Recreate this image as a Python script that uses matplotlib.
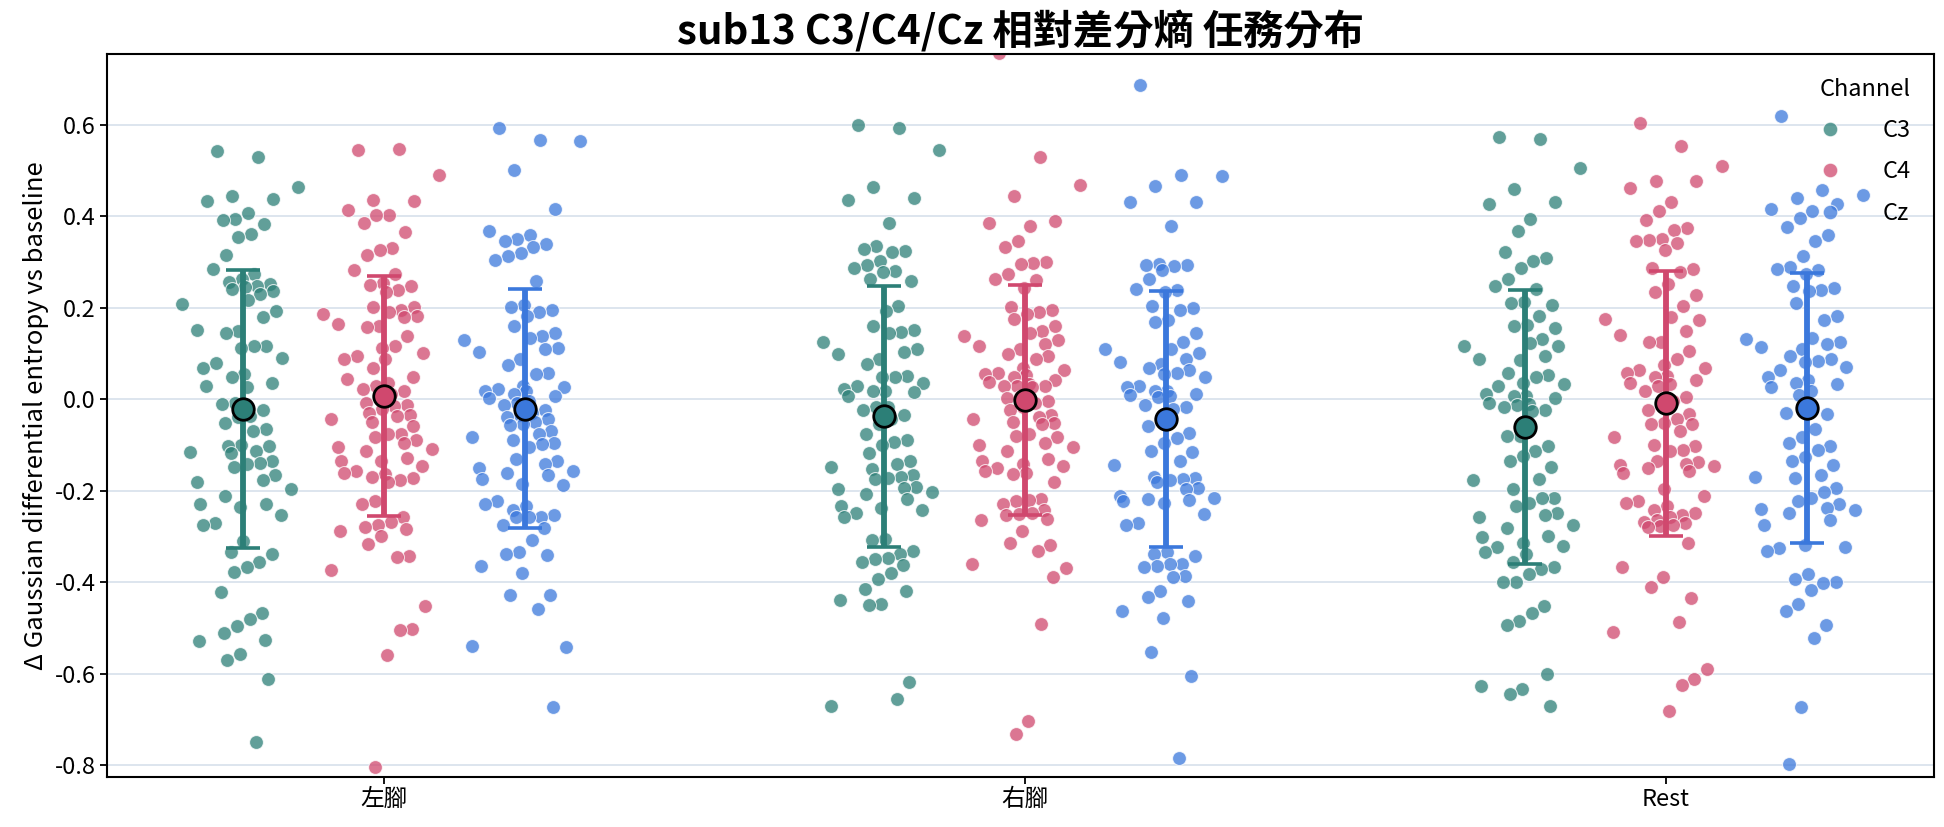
"""
sub13 C3/C4/Cz 相對差分熵 任務分布：抖動散點 + 平均值 ± SD。
輸出：out.png（1944x827）
"""

from __future__ import annotations

import matplotlib

matplotlib.use("Agg")
import matplotlib.pyplot as plt
import numpy as np
from matplotlib.lines import Line2D

# ---- 資料（各任務 × 通道的 Δ 差分熵）----
TASKS = ["左腳", "右腳", "Rest"]
CHANNELS = ["C3", "C4", "Cz"]

LEFT_C3 = [0.543, 0.530, 0.465, 0.445, 0.438, 0.433, 0.408, 0.395, 0.393, 0.383, 0.362, 0.355,
           0.316, 0.284, 0.275, 0.263, 0.257, 0.252, 0.247, 0.245, 0.242, 0.237, 0.230, 0.217,
           0.208, 0.194, 0.179, 0.152, 0.150, 0.145, 0.117, 0.116, 0.113, 0.091, 0.079, 0.068,
           0.055, 0.048, 0.036, 0.028, 0.026, -0.008, -0.011, -0.023, -0.037, -0.039, -0.052,
           -0.066, -0.069, -0.100, -0.103, -0.103, -0.113, -0.115, -0.117, -0.136, -0.140,
           -0.142, -0.149, -0.166, -0.177, -0.182, -0.197, -0.212, -0.228, -0.230, -0.236,
           -0.253, -0.271, -0.274, -0.309, -0.335, -0.338, -0.355, -0.367, -0.378, -0.422,
           -0.468, -0.481, -0.495, -0.512, -0.526, -0.529, -0.557, -0.570, -0.611, -0.749]
LEFT_C4 = [0.546, 0.547, 0.490, 0.436, 0.434, 0.413, 0.403, 0.402, 0.385, 0.365, 0.330, 0.326,
           0.316, 0.283, 0.275, 0.254, 0.249, 0.247, 0.239, 0.235, 0.202, 0.201, 0.196, 0.191,
           0.186, 0.183, 0.179, 0.165, 0.160, 0.157, 0.138, 0.117, 0.113, 0.101, 0.094, 0.089,
           0.089, 0.068, 0.048, 0.045, 0.036, 0.028, 0.022, 0.017, 0.012, 0.007, -0.008, -0.013,
           -0.015, -0.021, -0.029, -0.034, -0.036, -0.044, -0.049, -0.059, -0.075, -0.077,
           -0.083, -0.090, -0.095, -0.105, -0.108, -0.113, -0.128, -0.136, -0.136, -0.146,
           -0.156, -0.161, -0.164, -0.169, -0.172, -0.177, -0.182, -0.223, -0.230, -0.258,
           -0.269, -0.274, -0.279, -0.284, -0.289, -0.299, -0.317, -0.342, -0.345, -0.373,
           -0.453, -0.502, -0.504, -0.560, -0.805]
LEFT_CZ = [0.594, 0.567, 0.564, 0.502, 0.415, 0.368, 0.360, 0.351, 0.346, 0.339, 0.334, 0.319,
           0.314, 0.305, 0.259, 0.206, 0.201, 0.196, 0.191, 0.181, 0.160, 0.145, 0.138, 0.135,
           0.130, 0.113, 0.109, 0.104, 0.087, 0.074, 0.058, 0.056, 0.028, 0.026, 0.022, 0.019,
           0.017, 0.012, 0.007, 0.002, -0.003, -0.008, -0.013, -0.023, -0.029, -0.034, -0.039,
           -0.044, -0.049, -0.054, -0.057, -0.069, -0.075, -0.083, -0.090, -0.095, -0.098,
           -0.105, -0.131, -0.136, -0.141, -0.151, -0.156, -0.161, -0.166, -0.175, -0.185,
           -0.187, -0.223, -0.228, -0.233, -0.243, -0.253, -0.258, -0.258, -0.258, -0.274,
           -0.281, -0.307, -0.333, -0.338, -0.340, -0.364, -0.381, -0.427, -0.427, -0.458,
           -0.539, -0.542, -0.672]
RIGHT_C3 = [0.600, 0.594, 0.546, 0.464, 0.441, 0.436, 0.385, 0.336, 0.329, 0.324, 0.322, 0.303,
            0.293, 0.288, 0.281, 0.278, 0.263, 0.259, 0.203, 0.193, 0.160, 0.152, 0.147, 0.145,
            0.125, 0.109, 0.104, 0.099, 0.089, 0.077, 0.050, 0.048, 0.048, 0.035, 0.030, 0.022,
            0.019, 0.017, 0.015, 0.007, -0.018, -0.018, -0.023, -0.034, -0.044, -0.054, -0.075,
            -0.088, -0.093, -0.100, -0.117, -0.136, -0.141, -0.149, -0.153, -0.166, -0.169,
            -0.172, -0.175, -0.192, -0.195, -0.197, -0.202, -0.207, -0.218, -0.233, -0.238,
            -0.243, -0.248, -0.258, -0.306, -0.307, -0.332, -0.338, -0.348, -0.350, -0.355,
            -0.363, -0.379, -0.393, -0.414, -0.419, -0.440, -0.447, -0.449, -0.619, -0.655,
            -0.670]
RIGHT_C4 = [0.758, 0.530, 0.469, 0.444, 0.390, 0.385, 0.378, 0.346, 0.334, 0.300, 0.298, 0.295,
            0.275, 0.263, 0.260, 0.244, 0.201, 0.196, 0.191, 0.186, 0.176, 0.160, 0.150, 0.145,
            0.138, 0.130, 0.120, 0.116, 0.109, 0.099, 0.094, 0.089, 0.068, 0.063, 0.058, 0.056,
            0.053, 0.048, 0.043, 0.038, 0.033, 0.030, 0.028, 0.028, 0.026, 0.005, 0.002, -0.003,
            -0.008, -0.018, -0.023, -0.034, -0.039, -0.044, -0.049, -0.052, -0.054, -0.075,
            -0.080, -0.083, -0.095, -0.100, -0.105, -0.113, -0.131, -0.136, -0.141, -0.146,
            -0.151, -0.156, -0.161, -0.164, -0.182, -0.218, -0.220, -0.223, -0.228, -0.243,
            -0.248, -0.250, -0.253, -0.261, -0.264, -0.289, -0.315, -0.318, -0.332, -0.361,
            -0.368, -0.388, -0.491, -0.703, -0.733]
RIGHT_CZ = [0.688, 0.491, 0.489, 0.467, 0.431, 0.431, 0.379, 0.295, 0.293, 0.293, 0.291, 0.283,
            0.263, 0.242, 0.240, 0.234, 0.203, 0.199, 0.196, 0.173, 0.169, 0.145, 0.125, 0.111,
            0.109, 0.101, 0.089, 0.081, 0.077, 0.068, 0.063, 0.058, 0.055, 0.048, 0.030, 0.026,
            0.019, 0.017, 0.012, 0.009, 0.007, 0.005, -0.013, -0.018, -0.021, -0.044, -0.059,
            -0.073, -0.085, -0.095, -0.113, -0.115, -0.136, -0.144, -0.169, -0.172, -0.175,
            -0.177, -0.182, -0.195, -0.197, -0.212, -0.216, -0.218, -0.220, -0.223, -0.226,
            -0.251, -0.271, -0.276, -0.335, -0.338, -0.342, -0.361, -0.361, -0.364, -0.366,
            -0.386, -0.389, -0.420, -0.432, -0.442, -0.463, -0.478, -0.553, -0.606, -0.784]
REST_C3 = [0.574, 0.569, 0.505, 0.459, 0.431, 0.426, 0.395, 0.367, 0.322, 0.308, 0.303, 0.288,
           0.263, 0.247, 0.242, 0.213, 0.211, 0.206, 0.183, 0.162, 0.160, 0.155, 0.132, 0.122,
           0.117, 0.117, 0.094, 0.089, 0.085, 0.058, 0.053, 0.048, 0.036, 0.033, 0.028, 0.012,
           0.007, 0.007, 0.002, -0.008, -0.011, -0.013, -0.018, -0.023, -0.026, -0.080, -0.080,
           -0.103, -0.113, -0.124, -0.136, -0.148, -0.175, -0.177, -0.197, -0.216, -0.216,
           -0.226, -0.233, -0.248, -0.253, -0.258, -0.274, -0.281, -0.299, -0.301, -0.315,
           -0.320, -0.322, -0.335, -0.338, -0.355, -0.366, -0.371, -0.383, -0.399, -0.399,
           -0.453, -0.468, -0.485, -0.493, -0.601, -0.626, -0.634, -0.645, -0.670]
REST_C4 = [0.605, 0.554, 0.510, 0.477, 0.477, 0.462, 0.431, 0.411, 0.393, 0.375, 0.370, 0.351,
           0.349, 0.346, 0.342, 0.326, 0.288, 0.285, 0.278, 0.252, 0.234, 0.227, 0.203, 0.179,
           0.176, 0.173, 0.150, 0.140, 0.125, 0.125, 0.106, 0.089, 0.074, 0.068, 0.063, 0.058,
           0.050, 0.048, 0.043, 0.036, 0.033, 0.030, 0.019, 0.005, -0.003, -0.013, -0.023,
           -0.032, -0.044, -0.051, -0.054, -0.054, -0.069, -0.083, -0.100, -0.103, -0.110,
           -0.113, -0.136, -0.138, -0.141, -0.144, -0.146, -0.151, -0.156, -0.161, -0.197,
           -0.212, -0.223, -0.226, -0.233, -0.243, -0.248, -0.253, -0.258, -0.264, -0.269,
           -0.271, -0.274, -0.277, -0.279, -0.315, -0.366, -0.389, -0.410, -0.435, -0.488,
           -0.509, -0.590, -0.611, -0.624, -0.682]
REST_CZ = [0.620, 0.457, 0.446, 0.441, 0.426, 0.416, 0.411, 0.397, 0.377, 0.360, 0.346, 0.314,
           0.290, 0.285, 0.283, 0.275, 0.247, 0.244, 0.240, 0.237, 0.211, 0.183, 0.173, 0.135,
           0.132, 0.125, 0.120, 0.114, 0.109, 0.094, 0.089, 0.084, 0.081, 0.070, 0.063, 0.048,
           0.043, 0.036, 0.033, 0.026, 0.017, 0.009, -0.029, -0.032, -0.066, -0.083, -0.095,
           -0.103, -0.110, -0.126, -0.136, -0.144, -0.166, -0.169, -0.172, -0.195, -0.202,
           -0.216, -0.223, -0.230, -0.238, -0.240, -0.243, -0.248, -0.264, -0.274, -0.318,
           -0.322, -0.325, -0.332, -0.383, -0.393, -0.399, -0.401, -0.417, -0.447, -0.463,
           -0.493, -0.522, -0.672, -0.798]

Y_TICKS = [-0.8, -0.6, -0.4, -0.2, 0.0, 0.2, 0.4, 0.6]

TITLE = "sub13 C3/C4/Cz 相對差分熵 任務分布"
YLABEL = "Δ Gaussian differential entropy vs baseline"

# ---- 版式 ----
FIG_W_PX, FIG_H_PX, DPI = 1944, 827, 100
AX_LEFT_PX, AX_RIGHT_PX, AX_TOP_PX, AX_BOTTOM_PX = 107, 1934, 54, 777

BASE_COLORS = {"C3": "#2c7f77", "C4": "#d0486e", "Cz": "#3b78dc"}
POINT_ALPHA = 0.75
DODGE = 0.22
JITTER = 0.125
GRID_C = "#dde5ee"

TICK_FS = 17
LABEL_FS = 18.5
TITLE_FS = 29
LEGEND_FS = 17

FONT_FAMILY = ["Noto Sans CJK TC", "DejaVu Sans"]


def _spread(n: int) -> np.ndarray:
    # 決定性抖動：三條低差異序列相加，中間密、兩側疏
    k = np.arange(n)
    u1 = (k * 0.6180339887 + 0.37) % 1.0
    u2 = (k * 0.4142135624 + 0.11) % 1.0
    u3 = (k * 0.7320508076 + 0.53) % 1.0
    return ((u1 + u2 + u3) / 3.0 - 0.5) * 2.0 * JITTER


def main() -> None:
    plt.rcParams["font.family"] = FONT_FAMILY
    plt.rcParams["axes.unicode_minus"] = False

    data = {
        ("左腳", "C3"): LEFT_C3, ("左腳", "C4"): LEFT_C4, ("左腳", "Cz"): LEFT_CZ,
        ("右腳", "C3"): RIGHT_C3, ("右腳", "C4"): RIGHT_C4, ("右腳", "Cz"): RIGHT_CZ,
        ("Rest", "C3"): REST_C3, ("Rest", "C4"): REST_C4, ("Rest", "Cz"): REST_CZ,
    }

    fig = plt.figure(figsize=(FIG_W_PX / DPI, FIG_H_PX / DPI), dpi=DPI)
    ax = fig.add_axes([
        AX_LEFT_PX / FIG_W_PX,
        1.0 - AX_BOTTOM_PX / FIG_H_PX,
        (AX_RIGHT_PX - AX_LEFT_PX) / FIG_W_PX,
        (AX_BOTTOM_PX - AX_TOP_PX) / FIG_H_PX,
    ])

    offsets = {"C3": -DODGE, "C4": 0.0, "Cz": DODGE}
    for ti, task in enumerate(TASKS):
        for ch in CHANNELS:
            vals = np.asarray(data[(task, ch)], dtype=float)
            xc = ti + offsets[ch]
            xs = xc + _spread(len(vals))
            ax.scatter(xs, vals, s=100, color=BASE_COLORS[ch], alpha=POINT_ALPHA,
                       edgecolors="white", linewidths=0.8, zorder=2)
            m, sd = vals.mean(), vals.std(ddof=1)
            ax.errorbar(xc, m, yerr=sd, fmt="none", ecolor=BASE_COLORS[ch],
                        elinewidth=4.2, capsize=12, capthick=2.6, zorder=3)
            ax.plot(xc, m, marker="o", ms=15.5, mfc=BASE_COLORS[ch], mec="black",
                    mew=2.0, zorder=4)

    ax.set_xlim(-0.432, 2.418)
    ax.set_ylim(-0.826, 0.755)
    ax.set_xticks(range(len(TASKS)))
    ax.set_xticklabels(TASKS, fontsize=TICK_FS)
    ax.set_yticks(Y_TICKS)
    ax.set_yticklabels([f"{v:.1f}" for v in Y_TICKS], fontsize=TICK_FS)
    ax.yaxis.grid(True, color=GRID_C, linewidth=1.4, zorder=0)
    ax.set_axisbelow(True)
    for sp in ax.spines.values():
        sp.set_linewidth(1.5)
        sp.set_color("black")
    ax.tick_params(axis="both", length=5, width=1.3, colors="black", pad=3)
    ax.set_ylabel(YLABEL, fontsize=LABEL_FS, labelpad=4)
    ax.set_title(TITLE, fontsize=TITLE_FS, fontweight="bold", pad=6)

    handles = [
        Line2D([], [], linestyle="none", marker="o", markersize=10.5,
               markerfacecolor=BASE_COLORS[ch], markeredgecolor="white",
               markeredgewidth=0.8, alpha=POINT_ALPHA, label=ch)
        for ch in CHANNELS
    ]
    leg = ax.legend(handles=handles, title="Channel", loc="upper right", frameon=False,
                    fontsize=LEGEND_FS, title_fontsize=LEGEND_FS, handletextpad=1.2,
                    labelspacing=0.78, borderaxespad=0.6, markerfirst=True)
    leg._legend_box.align = "right"

    fig.savefig("out.png", dpi=DPI)
    plt.close(fig)


if __name__ == "__main__":
    main()
